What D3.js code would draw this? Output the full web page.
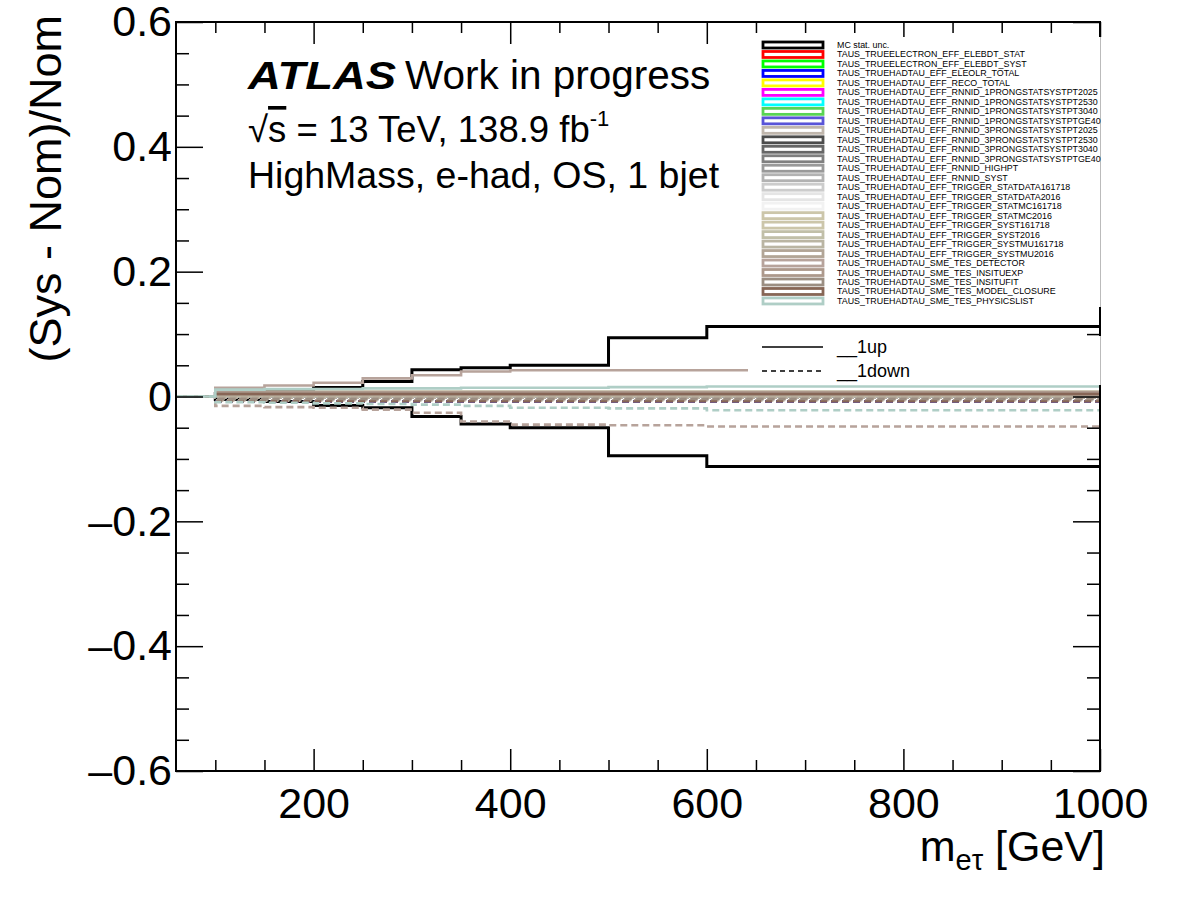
<!DOCTYPE html>
<html><head><meta charset="utf-8">
<script src="https://cdn.jsdelivr.net/npm/d3@7"></script>
<style>
body{margin:0;background:#fff}
text{font-family:"Liberation Sans",Arial,Helvetica,sans-serif;fill:#000}
</style>
</head><body>
<svg id="c" width="1178" height="898"></svg>
<script>
// ---------------- data ----------------
const binEdges = [60, 100, 150, 200, 250, 300, 350, 400, 500, 600, 1000];

const seriesNames = [
  "MC stat. unc.",
  "TAUS_TRUEELECTRON_EFF_ELEBDT_STAT",
  "TAUS_TRUEELECTRON_EFF_ELEBDT_SYST",
  "TAUS_TRUEHADTAU_EFF_ELEOLR_TOTAL",
  "TAUS_TRUEHADTAU_EFF_RECO_TOTAL",
  "TAUS_TRUEHADTAU_EFF_RNNID_1PRONGSTATSYSTPT2025",
  "TAUS_TRUEHADTAU_EFF_RNNID_1PRONGSTATSYSTPT2530",
  "TAUS_TRUEHADTAU_EFF_RNNID_1PRONGSTATSYSTPT3040",
  "TAUS_TRUEHADTAU_EFF_RNNID_1PRONGSTATSYSTPTGE40",
  "TAUS_TRUEHADTAU_EFF_RNNID_3PRONGSTATSYSTPT2025",
  "TAUS_TRUEHADTAU_EFF_RNNID_3PRONGSTATSYSTPT2530",
  "TAUS_TRUEHADTAU_EFF_RNNID_3PRONGSTATSYSTPT3040",
  "TAUS_TRUEHADTAU_EFF_RNNID_3PRONGSTATSYSTPTGE40",
  "TAUS_TRUEHADTAU_EFF_RNNID_HIGHPT",
  "TAUS_TRUEHADTAU_EFF_RNNID_SYST",
  "TAUS_TRUEHADTAU_EFF_TRIGGER_STATDATA161718",
  "TAUS_TRUEHADTAU_EFF_TRIGGER_STATDATA2016",
  "TAUS_TRUEHADTAU_EFF_TRIGGER_STATMC161718",
  "TAUS_TRUEHADTAU_EFF_TRIGGER_STATMC2016",
  "TAUS_TRUEHADTAU_EFF_TRIGGER_SYST161718",
  "TAUS_TRUEHADTAU_EFF_TRIGGER_SYST2016",
  "TAUS_TRUEHADTAU_EFF_TRIGGER_SYSTMU161718",
  "TAUS_TRUEHADTAU_EFF_TRIGGER_SYSTMU2016",
  "TAUS_TRUEHADTAU_SME_TES_DETECTOR",
  "TAUS_TRUEHADTAU_SME_TES_INSITUEXP",
  "TAUS_TRUEHADTAU_SME_TES_INSITUFIT",
  "TAUS_TRUEHADTAU_SME_TES_MODEL_CLOSURE",
  "TAUS_TRUEHADTAU_SME_TES_PHYSICSLIST"
];

const seriesColors = [
  "#000000", "#ff0000", "#00ff00", "#0000ff", "#ffff00", "#ff00ff", "#00ffff",
  "#59d454", "#5954d8", "#c0b6ac", "#4c4c4c", "#666666", "#7f7f7f", "#999999",
  "#b2b2b2", "#cccccc", "#e5e5e5", "#f2f2f2", "#ccc6aa", "#ccc6aa", "#c1bfa8",
  "#bab5a3", "#b2a596", "#b7a39b", "#ad998c", "#9b8e82", "#876656", "#afcec6"
];

// relative variation per bin (first bin 60-100 is empty)
const sysUp = [
  [0, 0.005, 0.008, 0.0145, 0.024, 0.043, 0.046, 0.050, 0.094, 0.112],
  [0, 0.001, 0.001, 0.001, 0.001, 0.001, 0.001, 0.001, 0.001, 0.001],
  [0, 0.002, 0.002, 0.002, 0.002, 0.002, 0.002, 0.002, 0.002, 0.002],
  [0, 0.003, 0.003, 0.003, 0.003, 0.003, 0.003, 0.003, 0.003, 0.003],
  [0, 0.001, 0.001, 0.001, 0.001, 0.001, 0.001, 0.001, 0.001, 0.001],
  [0, 0.001, 0.001, 0.001, 0.001, 0.001, 0.001, 0.001, 0.001, 0.001],
  [0, 0.001, 0.001, 0.001, 0.001, 0.001, 0.001, 0.001, 0.001, 0.001],
  [0, 0.0015, 0.0015, 0.0015, 0.0015, 0.0015, 0.0015, 0.0015, 0.0015, 0.0015],
  [0, 0.002, 0.002, 0.002, 0.002, 0.002, 0.002, 0.002, 0.002, 0.002],
  [0, 0.001, 0.001, 0.001, 0.001, 0.001, 0.001, 0.001, 0.001, 0.001],
  [0, 0.001, 0.001, 0.001, 0.001, 0.001, 0.001, 0.001, 0.001, 0.001],
  [0, 0.001, 0.001, 0.001, 0.001, 0.001, 0.001, 0.001, 0.001, 0.001],
  [0, 0.001, 0.001, 0.001, 0.001, 0.001, 0.001, 0.001, 0.001, 0.001],
  [0, 0.004, 0.004, 0.004, 0.004, 0.004, 0.004, 0.004, 0.004, 0.004],
  [0, 0.006, 0.006, 0.006, 0.006, 0.006, 0.006, 0.006, 0.006, 0.006],
  [0, 0.002, 0.002, 0.002, 0.002, 0.002, 0.002, 0.002, 0.002, 0.002],
  [0, 0.001, 0.001, 0.001, 0.001, 0.001, 0.001, 0.001, 0.001, 0.001],
  [0, 0.005, 0.005, 0.005, 0.005, 0.005, 0.005, 0.005, 0.005, 0.005],
  [0, 0.001, 0.001, 0.001, 0.001, 0.001, 0.001, 0.001, 0.001, 0.001],
  [0, 0.008, 0.008, 0.008, 0.008, 0.008, 0.008, 0.008, 0.008, 0.008],
  [0, 0.002, 0.002, 0.002, 0.002, 0.002, 0.002, 0.002, 0.002, 0.002],
  [0, 0.005, 0.005, 0.005, 0.005, 0.005, 0.005, 0.005, 0.005, 0.005],
  [0, 0.002, 0.002, 0.002, 0.002, 0.002, 0.002, 0.002, 0.002, 0.002],
  [0, 0.014, 0.0176, 0.022, 0.029, 0.034, 0.040, 0.042, 0.042, 0.042],
  [0, 0.007, 0.007, 0.007, 0.007, 0.007, 0.007, 0.007, 0.007, 0.007],
  [0, 0.004, 0.004, 0.004, 0.004, 0.004, 0.004, 0.004, 0.004, 0.004],
  [0, 0.004, 0.004, 0.004, 0.004, 0.004, 0.004, 0.004, 0.004, 0.004],
  [0, 0.011, 0.012, 0.012, 0.013, 0.013, 0.014, 0.014, 0.015, 0.016]
];

const sysDown = [
  [0, -0.005, -0.008, -0.0145, -0.018, -0.032, -0.044, -0.050, -0.095, -0.112],
  [0, -0.001, -0.001, -0.001, -0.001, -0.001, -0.001, -0.001, -0.001, -0.001],
  [0, -0.002, -0.002, -0.002, -0.002, -0.002, -0.002, -0.002, -0.002, -0.002],
  [0, -0.008, -0.008, -0.008, -0.008, -0.008, -0.008, -0.008, -0.008, -0.008],
  [0, -0.001, -0.001, -0.001, -0.001, -0.001, -0.001, -0.001, -0.001, -0.001],
  [0, -0.001, -0.001, -0.001, -0.001, -0.001, -0.001, -0.001, -0.001, -0.001],
  [0, -0.001, -0.001, -0.001, -0.001, -0.001, -0.001, -0.001, -0.001, -0.001],
  [0, -0.0015, -0.0015, -0.0015, -0.0015, -0.0015, -0.0015, -0.0015, -0.0015, -0.0015],
  [0, -0.002, -0.002, -0.002, -0.002, -0.002, -0.002, -0.002, -0.002, -0.002],
  [0, -0.001, -0.001, -0.001, -0.001, -0.001, -0.001, -0.001, -0.001, -0.001],
  [0, -0.001, -0.001, -0.001, -0.001, -0.001, -0.001, -0.001, -0.001, -0.001],
  [0, -0.001, -0.001, -0.001, -0.001, -0.001, -0.001, -0.001, -0.001, -0.001],
  [0, -0.001, -0.001, -0.001, -0.001, -0.001, -0.001, -0.001, -0.001, -0.001],
  [0, -0.004, -0.004, -0.004, -0.004, -0.004, -0.004, -0.004, -0.004, -0.004],
  [0, -0.006, -0.006, -0.006, -0.006, -0.006, -0.006, -0.006, -0.006, -0.006],
  [0, -0.002, -0.002, -0.002, -0.002, -0.002, -0.002, -0.002, -0.002, -0.002],
  [0, -0.001, -0.001, -0.001, -0.001, -0.001, -0.001, -0.001, -0.001, -0.001],
  [0, -0.006, -0.006, -0.006, -0.006, -0.006, -0.006, -0.006, -0.006, -0.006],
  [0, -0.001, -0.001, -0.001, -0.001, -0.001, -0.001, -0.001, -0.001, -0.001],
  [0, -0.006, -0.006, -0.006, -0.006, -0.006, -0.006, -0.006, -0.006, -0.006],
  [0, -0.002, -0.002, -0.002, -0.002, -0.002, -0.002, -0.002, -0.002, -0.002],
  [0, -0.004, -0.004, -0.004, -0.004, -0.004, -0.004, -0.004, -0.004, -0.004],
  [0, -0.002, -0.002, -0.002, -0.002, -0.002, -0.002, -0.002, -0.002, -0.002],
  [0, -0.015, -0.017, -0.018, -0.021, -0.026, -0.040, -0.045, -0.046, -0.048],
  [0, -0.006, -0.006, -0.006, -0.006, -0.006, -0.006, -0.006, -0.006, -0.006],
  [0, -0.004, -0.004, -0.004, -0.004, -0.004, -0.004, -0.004, -0.004, -0.004],
  [0, -0.008, -0.008, -0.008, -0.008, -0.008, -0.008, -0.008, -0.008, -0.008],
  [0, -0.009, -0.010, -0.011, -0.012, -0.013, -0.015, -0.018, -0.019, -0.022]
];

const xMajorTicks = [200, 400, 600, 800, 1000];
const xMinorTicks = [100, 150, 250, 300, 350, 450, 500, 550, 650, 700, 750, 850, 900, 950];
const yMajorTicks = [-0.6, -0.4, -0.2, 0, 0.2, 0.4, 0.6];
const yTickLabels = ["\u20130.6", "\u20130.4", "\u20130.2", "0", "0.2", "0.4", "0.6"];
const yMinorTicks = [-0.55, -0.5, -0.45, -0.35, -0.3, -0.25, -0.15, -0.1, -0.05,
                     0.05, 0.1, 0.15, 0.25, 0.3, 0.35, 0.45, 0.5, 0.55];
const styleLabels = ["__1up", "__1down"];

// ---------------- layout ----------------
const L = 176, R = 1100, T = 22, B = 771;
const svg = d3.select("#c");
const x = d3.scaleLinear().domain([60, 1000]).range([L, R]);
const y = d3.scaleLinear().domain([-0.6, 0.6]).range([B, T]);

// histogram lines
const line = d3.line().x(d => x(d[0])).y(d => y(d[1])).curve(d3.curveStepAfter);
function pts(vals) {
  const p = vals.map((v, i) => [binEdges[i], v]);
  p.push([binEdges[binEdges.length - 1], vals[vals.length - 1]]);
  return p;
}
const gh = svg.append("g");
seriesNames.forEach((n, i) => {
  const w = i === 0 ? 3 : 2.6;
  gh.append("path").attr("d", line(pts(sysUp[i]))).attr("fill", "none")
    .attr("stroke", seriesColors[i]).attr("stroke-width", w);
  gh.append("path").attr("d", line(pts(sysDown[i]))).attr("fill", "none")
    .attr("stroke", seriesColors[i]).attr("stroke-width", w)
    .attr("stroke-dasharray", i === 0 ? null : "7,4");
});

// frame
svg.append("rect").attr("x", L).attr("y", T).attr("width", R - L).attr("height", B - T)
  .attr("fill", "none").attr("stroke", "#000").attr("stroke-width", 2);

// axes
function styleAxis(g, fs) {
  g.select(".domain").remove();
  g.selectAll("line").attr("stroke", "#000").attr("stroke-width", 1.5);
  g.selectAll("text").style("font-size", fs + "px").attr("fill", "#000")
    .style("font-family", '"Liberation Sans",Arial,sans-serif');
}
styleAxis(svg.append("g").attr("transform", `translate(0,${B})`)
  .call(d3.axisBottom(x).tickValues(xMajorTicks).tickSize(-22).tickPadding(16)
  .tickFormat(d3.format("d"))), 43);
styleAxis(svg.append("g").attr("transform", `translate(0,${B})`)
  .call(d3.axisBottom(x).tickValues(xMinorTicks).tickSize(-11).tickFormat("")), 10);
styleAxis(svg.append("g").attr("transform", `translate(0,${T})`)
  .call(d3.axisTop(x).tickValues(xMajorTicks).tickSize(-22).tickFormat("")), 10);
styleAxis(svg.append("g").attr("transform", `translate(0,${T})`)
  .call(d3.axisTop(x).tickValues(xMinorTicks).tickSize(-11).tickFormat("")), 10);
styleAxis(svg.append("g").attr("transform", `translate(${L},0)`)
  .call(d3.axisLeft(y).tickValues(yMajorTicks).tickSize(-27).tickPadding(4)
  .tickFormat((d, i) => yTickLabels[i])), 43);
styleAxis(svg.append("g").attr("transform", `translate(${L},0)`)
  .call(d3.axisLeft(y).tickValues(yMinorTicks).tickSize(-13).tickFormat("")), 10);
styleAxis(svg.append("g").attr("transform", `translate(${R},0)`)
  .call(d3.axisRight(y).tickValues(yMajorTicks).tickSize(-27).tickFormat("")), 10);
styleAxis(svg.append("g").attr("transform", `translate(${R},0)`)
  .call(d3.axisRight(y).tickValues(yMinorTicks).tickSize(-13).tickFormat("")), 10);

// axis titles
svg.append("text").attr("transform", "translate(61,15) rotate(-90)")
  .attr("text-anchor", "end").style("font-size", "45px").text("(Sys - Nom)/Nom");
const xt = svg.append("text").attr("x", 1105).attr("y", 861).attr("text-anchor", "end")
  .style("font-size", "43px");
xt.append("tspan").text("m");
xt.append("tspan").attr("dy", 9).style("font-size", "29px").text("e\u03c4");
xt.append("tspan").attr("dy", -9).text(" [GeV]");

// ATLAS label
svg.append("text").attr("x", 248).attr("y", 89).style("font-size", "38px")
  .style("font-weight", "bold").style("font-style", "italic")
  .attr("textLength", 148).attr("lengthAdjust", "spacingAndGlyphs").text("ATLAS");
svg.append("text").attr("x", 405).attr("y", 89).style("font-size", "40.5px")
  .text("Work in progress");
const t2 = svg.append("text").attr("x", 248).attr("y", 142).style("font-size", "36.5px");
t2.append("tspan").text("\u221a");
t2.append("tspan").style("text-decoration", "overline").text("s");
t2.append("tspan").text(" = 13 TeV, 138.9 fb");
t2.append("tspan").attr("dy", -16).style("font-size", "22px").text("-1");
svg.append("text").attr("x", 248).attr("y", 188).style("font-size", "37.5px")
  .text("HighMass, e-had, OS, 1 bjet");

// legend 1
const lg = svg.append("g");
lg.append("rect").attr("x", 758).attr("y", 37).attr("width", 344).attr("height", 270)
  .attr("fill", "#fff");
lg.append("line").attr("x1", R + 0.5).attr("x2", R + 0.5).attr("y1", 37).attr("y2", 307)
  .attr("stroke", "#bbb").attr("stroke-width", 1);
const rowY = i => 45 + i * 9.48;
seriesNames.forEach((n, i) => {
  lg.append("rect").attr("x", 763).attr("y", rowY(i) - 3).attr("width", 60).attr("height", 6)
    .attr("fill", "#fff").attr("stroke", seriesColors[i]).attr("stroke-width", 2.8);
  lg.append("text").attr("x", 837).attr("y", rowY(i) + 3).style("font-size", "8.9px").text(n);
});

// legend 2 (line styles)
const lg2 = svg.append("g");
lg2.append("rect").attr("x", 748).attr("y", 336).attr("width", 354).attr("height", 49)
  .attr("fill", "#fff");
lg2.append("line").attr("x1", R + 0.5).attr("x2", R + 0.5).attr("y1", 336).attr("y2", 385)
  .attr("stroke", "#bbb").attr("stroke-width", 1);
styleLabels.forEach((s, i) => {
  const yy = 347 + i * 24;
  lg2.append("line").attr("x1", 762).attr("x2", 823).attr("y1", yy).attr("y2", yy)
    .attr("stroke", "#000").attr("stroke-width", 1.5)
    .attr("stroke-dasharray", i === 1 ? "5,4" : null);
  lg2.append("text").attr("x", 837).attr("y", yy + 6).style("font-size", "18px").text(s);
});
</script>
</body></html>
